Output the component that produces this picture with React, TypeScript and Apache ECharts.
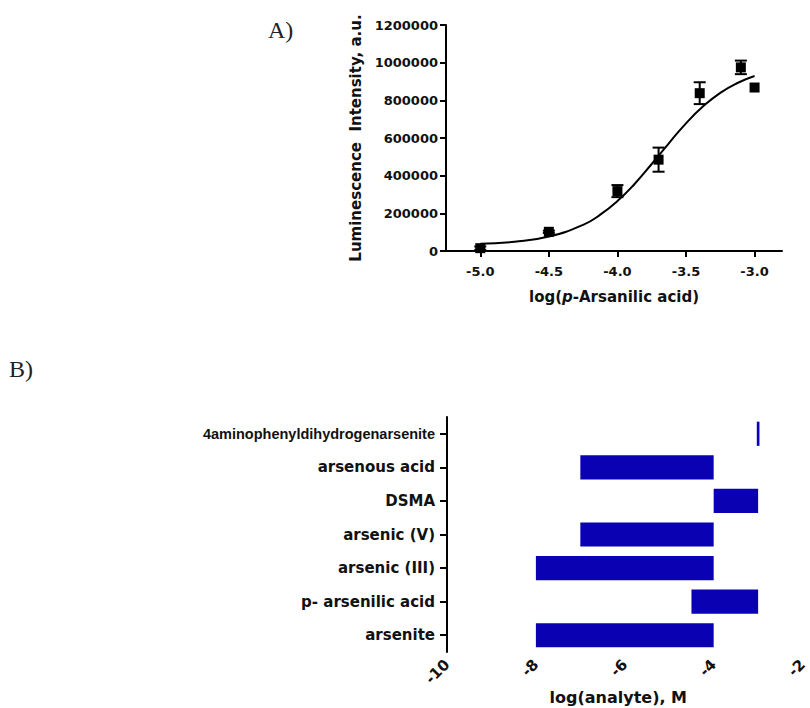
import React, { useEffect, useRef } from "react";
import * as echarts from "echarts";

// ---- Panel A data ----
const concLog = [-5.0, -4.5, -4.0, -3.7, -3.4, -3.1, -3.0];
const intensity = [15000, 102000, 318000, 485000, 838000, 975000, 868000];
const intensityErr = [9000, 6000, 32000, 64000, 58000, 36000, 0];
const fitX = [-5.0, -4.75, -4.5, -4.25, -4.125, -4.0, -3.875, -3.75, -3.625, -3.5, -3.375, -3.25, -3.125, -3.0];
const fitY = [38000, 49000, 77000, 139000, 193000, 265000, 356000, 462000, 572000, 678000, 768000, 840000, 892000, 929000];
const xTicksA = [-5.0, -4.5, -4.0, -3.5, -3.0];

// ---- Panel B data ----
const analytes = [
  "arsenite",
  "p- arsenilic acid",
  "arsenic (III)",
  "arsenic (V)",
  "DSMA",
  "arsenous acid",
  "4aminophenyldihydrogenarsenite",
];
const rangeStart = [-8, -4.5, -8, -7, -4, -7, -3.03];
const rangeEnd = [-4, -3, -4, -4, -3, -4, -2.97];

const BOLD = "DejaVu Sans";
const BLUE = "#0a02b2";

export default function App() {
  const ref = useRef<HTMLDivElement>(null);
  useEffect(() => {
    if (!ref.current) return;
    const chart = echarts.init(ref.current, null, { renderer: "svg" });
    const scatterData = concLog.map((x, i) => [x, intensity[i]]);
    const errData = concLog
      .map((x, i) => [x, intensity[i] - intensityErr[i], intensity[i] + intensityErr[i]])
      .filter((d, i) => intensityErr[i] > 0);
    const fitData = fitX.map((x, i) => [x, fitY[i]]);
    const barData = analytes.map((_, i) => [i, rangeStart[i], rangeEnd[i]]);

    chart.setOption({
      animation: false,
      backgroundColor: "#ffffff",
      grid: [
        { left: 446, right: 28, top: 25, height: 226 },
        { left: 447, right: 4, top: 417, height: 235 },
      ],
      graphic: [
        {
          type: "text",
          left: 268,
          top: 18,
          style: { text: "A)", font: "24px 'Liberation Serif'", fill: "#222" },
        },
        {
          type: "text",
          left: 9,
          top: 357,
          style: { text: "B)", font: "24px 'Liberation Serif'", fill: "#222" },
        },
      ],
      xAxis: [
        {
          gridIndex: 0,
          type: "value",
          min: -5.25,
          max: -2.8,
          splitLine: { show: false },
          axisLine: { onZero: false, lineStyle: { color: "#000", width: 2 } },
          axisTick: { customValues: xTicksA, length: 6, lineStyle: { color: "#000", width: 2 } },
          axisLabel: {
            customValues: xTicksA,
            formatter: (v: number) => v.toFixed(1),
            fontFamily: BOLD,
            fontWeight: "bold",
            fontSize: 13,
            color: "#111",
            margin: 14,
          },
          name: "log({i|p}-Arsanilic acid)",
          nameLocation: "middle",
          nameGap: 38,
          nameTextStyle: {
            fontFamily: BOLD,
            fontWeight: "bold",
            fontSize: 15,
            color: "#111",
            rich: {
              i: { fontFamily: BOLD, fontWeight: "bold", fontStyle: "italic", fontSize: 15, color: "#111" },
            },
          },
        },
        {
          gridIndex: 1,
          type: "value",
          min: -10,
          max: -2,
          interval: 2,
          splitLine: { show: false },
          axisLine: { onZero: false, lineStyle: { color: "#000", width: 2 } },
          axisTick: { length: 6, lineStyle: { color: "#000", width: 2 } },
          axisLabel: {
            rotate: 45,
            fontFamily: BOLD,
            fontWeight: "bold",
            fontSize: 15,
            color: "#111",
            margin: 10,
          },
          name: "log(analyte), M",
          nameLocation: "middle",
          nameGap: 37,
          nameTextStyle: {
            fontFamily: BOLD,
            fontWeight: "bold",
            fontSize: 16,
            color: "#111",
            padding: [0, 13, 0, 0],
          },
        },
      ],
      yAxis: [
        {
          gridIndex: 0,
          type: "value",
          min: 0,
          max: 1200000,
          interval: 200000,
          splitLine: { show: false },
          axisLine: { show: true, onZero: false, lineStyle: { color: "#000", width: 2 } },
          axisTick: { show: true, length: 6, lineStyle: { color: "#000", width: 2 } },
          axisLabel: {
            formatter: (v: number) => String(v),
            fontFamily: BOLD,
            fontWeight: "bold",
            fontSize: 13,
            color: "#111",
            margin: 8,
          },
          name: "Luminescence  Intensity, a.u.",
          nameLocation: "middle",
          nameGap: 83,
          nameTextStyle: { fontFamily: BOLD, fontWeight: "bold", fontSize: 15, color: "#111" },
        },
        {
          gridIndex: 1,
          type: "category",
          data: analytes,
          splitLine: { show: false },
          axisLine: { show: true, lineStyle: { color: "#000", width: 2 } },
          axisTick: { show: true, alignWithLabel: true, length: 7, lineStyle: { color: "#000", width: 2 } },
          axisLabel: {
            margin: 12,
            formatter: (v: string) => (v.length > 20 ? "{n|" + v + "}" : "{w|" + v + "}"),
            rich: {
              w: { fontFamily: BOLD, fontWeight: "bold", fontSize: 15, color: "#111" },
              n: { fontFamily: "Liberation Sans", fontWeight: "bold", fontSize: 14.5, color: "#111" },
            },
          },
        },
      ],
      series: [
        {
          type: "line",
          xAxisIndex: 0,
          yAxisIndex: 0,
          data: fitData,
          smooth: true,
          showSymbol: false,
          lineStyle: { color: "#000", width: 2 },
          z: 2,
        },
        {
          type: "custom",
          xAxisIndex: 0,
          yAxisIndex: 0,
          data: errData,
          encode: { x: 0, y: [1, 2] },
          z: 3,
          renderItem: (params: any, api: any) => {
            const x = api.value(0);
            const lo = api.coord([x, api.value(1)]);
            const hi = api.coord([x, api.value(2)]);
            const hw = 6;
            const st = { stroke: "#000", lineWidth: 2 };
            return {
              type: "group",
              children: [
                { type: "line", shape: { x1: lo[0], y1: lo[1], x2: hi[0], y2: hi[1] }, style: st },
                { type: "line", shape: { x1: lo[0] - hw, y1: lo[1], x2: lo[0] + hw, y2: lo[1] }, style: st },
                { type: "line", shape: { x1: hi[0] - hw, y1: hi[1], x2: hi[0] + hw, y2: hi[1] }, style: st },
              ],
            };
          },
        },
        {
          type: "scatter",
          xAxisIndex: 0,
          yAxisIndex: 0,
          data: scatterData,
          symbol: "rect",
          symbolSize: 10,
          itemStyle: { color: "#000", opacity: 1 },
          z: 4,
        },
        {
          type: "custom",
          xAxisIndex: 1,
          yAxisIndex: 1,
          data: barData,
          encode: { y: 0, x: [1, 2] },
          renderItem: (params: any, api: any) => {
            const cat = api.value(0);
            const p1 = api.coord([api.value(1), cat]);
            const p2 = api.coord([api.value(2), cat]);
            const h = api.size([0, 1])[1] * 0.72;
            return {
              type: "rect",
              shape: { x: p1[0], y: p1[1] - h / 2, width: p2[0] - p1[0], height: h },
              style: { fill: BLUE },
            };
          },
        },
      ],
    });
    return () => chart.dispose();
  }, []);
  return (
    <div
      ref={ref}
      style={{ position: "absolute", left: 0, top: 0, width: 810, height: 708, background: "#fff" }}
    />
  );
}
